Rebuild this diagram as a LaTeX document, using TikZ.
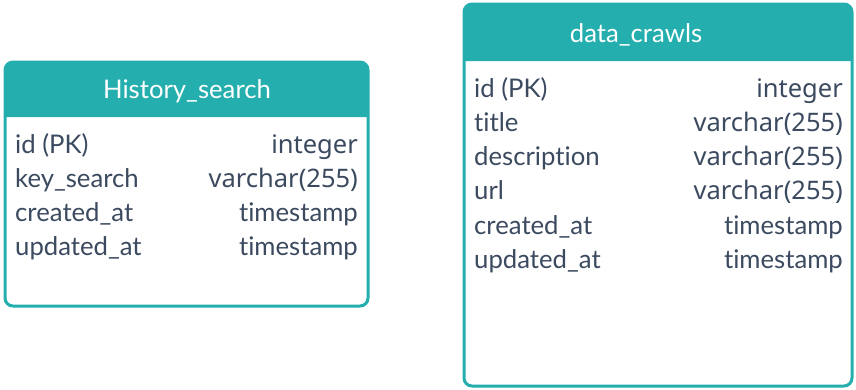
\documentclass[tikz,border=0pt]{standalone}
\usepackage{fontspec}
\setmainfont{Lato}[Ligatures=NoCommon]
\newfontfamily\typefont{Noto Sans}
\definecolor{tealhead}{RGB}{36,174,174}
\definecolor{rowtext}{RGB}{60,74,96}
\tikzset{
  tblframe/.style={draw=tealhead, line width=3pt, rounded corners=8pt},
  tblhead/.style={fill=tealhead},
  tbltitle/.style={text=white, font=\fontsize{25.7}{30}\selectfont, inner sep=0pt, anchor=base},
  fieldname/.style={text=rowtext, font=\fontsize{25.7}{30}\selectfont, anchor=base west, inner sep=0pt},
  fieldtype/.style={text=rowtext, font=\fontsize{25.7}{30}\selectfont, anchor=base east, inner sep=0pt},
  numtype/.style={fieldtype, font=\typefont\fontsize{25.5}{30}\selectfont},
}
\begin{document}
\begin{tikzpicture}[x=1pt, y=-1pt]
\useasboundingbox (0,0) rectangle (856,389);

% ---- History_search table ----
\fill[white, rounded corners=8pt] (5,62) rectangle (368,306);
\fill[tblhead] (5,117) [rounded corners=8pt] -- (5,62) -- (368,62) [sharp corners] -- (368,117) -- cycle;
\draw[tblframe] (5,62) rectangle (368,306);
\node[tbltitle] (hs-title) at (187,98) {History\_search};
\node[fieldname] (hs-n1) at (15,153) {id (PK)};
\node[numtype]   (hs-t1) at (358,153) {integer};
\node[fieldname] (hs-n2) at (15,187.3) {key\_search};
\node[numtype]   (hs-t2) at (358,187.3) {varchar(255)};
\node[fieldname] (hs-n3) at (15,221.6) {created\_at};
\node[fieldtype] (hs-t3) at (358,221.6) {timestamp};
\node[fieldname] (hs-n4) at (15,255.9) {updated\_at};
\node[fieldtype] (hs-t4) at (358,255.9) {timestamp};

% ---- data_crawls table ----
\fill[white, rounded corners=8pt] (464,4) rectangle (852,386);
\fill[tblhead] (464,61) [rounded corners=8pt] -- (464,4) -- (852,4) [sharp corners] -- (852,61) -- cycle;
\draw[tblframe] (464,4) rectangle (852,386);
\node[tbltitle] (dc-title) at (636,42) {data\_crawls};
\node[fieldname] (dc-n1) at (474,97) {id (PK)};
\node[numtype]   (dc-t1) at (843,97) {integer};
\node[fieldname] (dc-n2) at (474,131.3) {title};
\node[numtype]   (dc-t2) at (843,131.3) {varchar(255)};
\node[fieldname] (dc-n3) at (474,165.6) {description};
\node[numtype]   (dc-t3) at (843,165.6) {varchar(255)};
\node[fieldname] (dc-n4) at (474,199.9) {url};
\node[numtype]   (dc-t4) at (843,199.9) {varchar(255)};
\node[fieldname] (dc-n5) at (474,234.2) {created\_at};
\node[fieldtype] (dc-t5) at (843,234.2) {timestamp};
\node[fieldname] (dc-n6) at (474,268.5) {updated\_at};
\node[fieldtype] (dc-t6) at (843,268.5) {timestamp};
\end{tikzpicture}
\end{document}
